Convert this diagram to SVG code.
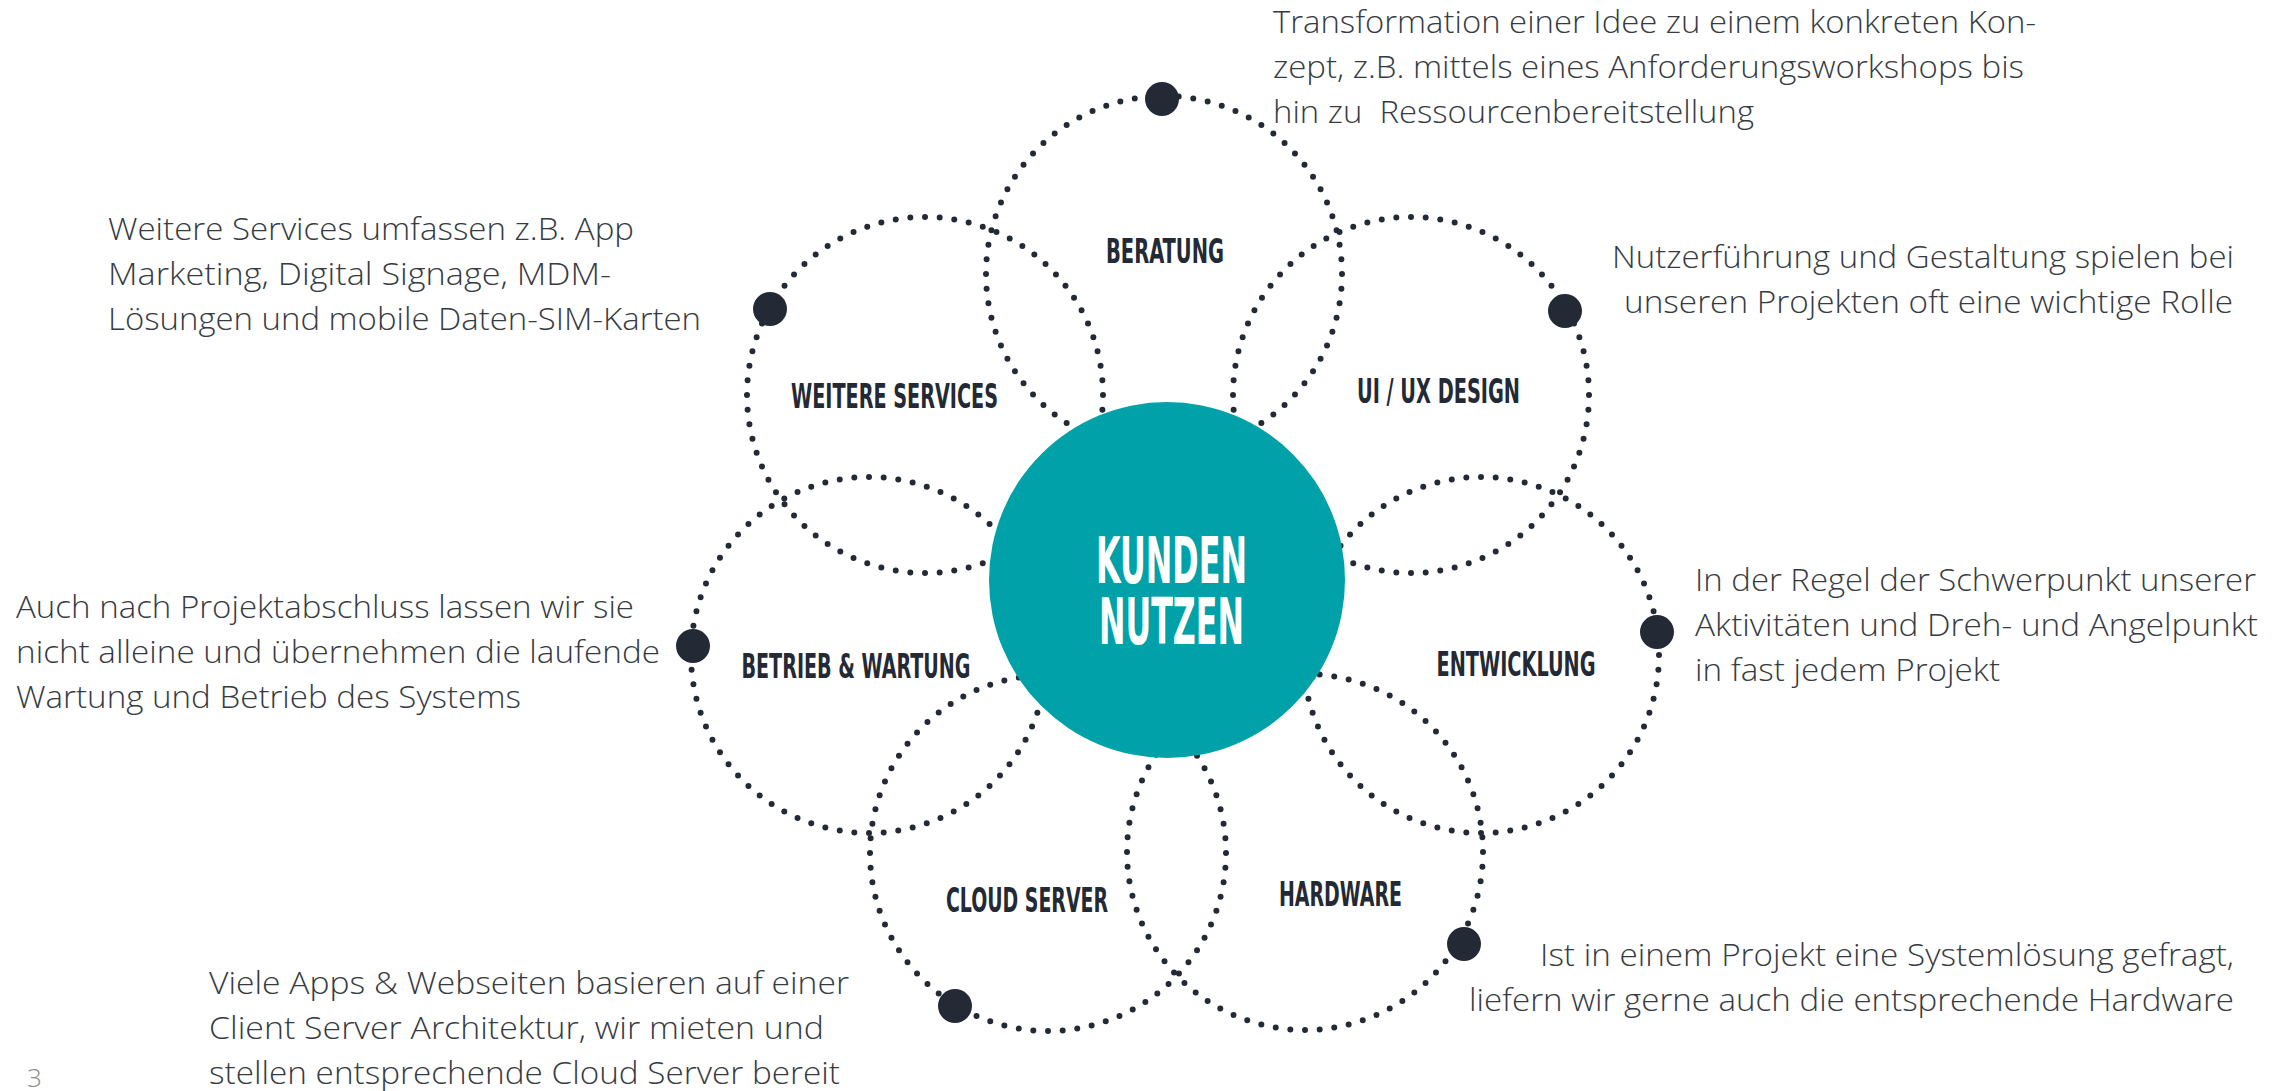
<svg xmlns="http://www.w3.org/2000/svg" width="2287" height="1091" viewBox="0 0 2287 1091">
<style>
.ring{fill:none;stroke:#232a35;stroke-width:6;stroke-linecap:round;stroke-dasharray:0 1}
.pin{fill:#232a35}
.lbl{font-family:"Liberation Sans Narrow","DejaVu Sans Condensed","Roboto",sans-serif;font-weight:bold;font-size:34px;fill:#232a35;text-anchor:middle}
.desc{font-family:"Open Sans","Liberation Sans",sans-serif;font-weight:300;font-size:31px;fill:#363b42}
.end{text-anchor:end}
.core{fill:#00a1a9}
.corelbl{font-family:"Liberation Sans Narrow","DejaVu Sans Condensed","Roboto",sans-serif;font-weight:bold;font-size:64px;fill:#ffffff;text-anchor:middle}
.page{font-family:"Open Sans","Liberation Sans",sans-serif;font-weight:300;font-size:26px;fill:#8c8c8c}
</style>
<rect x="0" y="0" width="2287" height="1091" fill="#ffffff"/>

<g id="beratung">
<circle class="ring" cx="1164" cy="274" r="178" pathLength="76"/>
<circle class="pin" cx="1162" cy="99" r="17"/>
<text class="lbl" x="1165" y="263" textLength="118" lengthAdjust="spacingAndGlyphs">BERATUNG</text>
<text class="desc" x="1273" y="33" textLength="763" lengthAdjust="spacingAndGlyphs">Transformation einer Idee zu einem konkreten Kon-</text>
<text class="desc" x="1273" y="78" textLength="751" lengthAdjust="spacingAndGlyphs">zept, z.B. mittels eines Anforderungsworkshops bis</text>
<text class="desc" x="1273" y="123" textLength="481" lengthAdjust="spacingAndGlyphs" xml:space="preserve">hin zu  Ressourcenbereitstellung</text>
</g>

<g id="uiux">
<circle class="ring" cx="1411" cy="395" r="178" pathLength="76"/>
<circle class="pin" cx="1565" cy="311" r="17"/>
<text class="lbl" x="1438.5" y="403" textLength="163" lengthAdjust="spacingAndGlyphs">UI / UX DESIGN</text>
<text class="desc end" x="2234" y="268" textLength="622" lengthAdjust="spacingAndGlyphs">Nutzerführung und Gestaltung spielen bei</text>
<text class="desc end" x="2233" y="313" textLength="609" lengthAdjust="spacingAndGlyphs">unseren Projekten oft eine wichtige Rolle</text>
</g>

<g id="entwicklung">
<circle class="ring" cx="1481" cy="655" r="178" pathLength="76"/>
<circle class="pin" cx="1657" cy="632" r="17"/>
<text class="lbl" x="1516" y="676" textLength="159" lengthAdjust="spacingAndGlyphs">ENTWICKLUNG</text>
<text class="desc" x="1695" y="591" textLength="561" lengthAdjust="spacingAndGlyphs">In der Regel der Schwerpunkt unserer</text>
<text class="desc" x="1695" y="636" textLength="563" lengthAdjust="spacingAndGlyphs">Aktivitäten und Dreh- und Angelpunkt</text>
<text class="desc" x="1695" y="681" textLength="305" lengthAdjust="spacingAndGlyphs">in fast jedem Projekt</text>
</g>

<g id="hardware">
<circle class="ring" cx="1305" cy="852" r="178" pathLength="76"/>
<circle class="pin" cx="1464" cy="944" r="17"/>
<text class="lbl" x="1340.5" y="906" textLength="123" lengthAdjust="spacingAndGlyphs">HARDWARE</text>
<text class="desc end" x="2234" y="966" textLength="694" lengthAdjust="spacingAndGlyphs">Ist in einem Projekt eine Systemlösung gefragt,</text>
<text class="desc end" x="2234" y="1011" textLength="765" lengthAdjust="spacingAndGlyphs">liefern wir gerne auch die entsprechende Hardware</text>
</g>

<g id="cloud-server">
<circle class="ring" cx="1048" cy="853" r="178" pathLength="76"/>
<circle class="pin" cx="955" cy="1006" r="17"/>
<text class="lbl" x="1027" y="912" textLength="162" lengthAdjust="spacingAndGlyphs">CLOUD SERVER</text>
<text class="desc" x="209" y="994" textLength="640" lengthAdjust="spacingAndGlyphs">Viele Apps &amp; Webseiten basieren auf einer</text>
<text class="desc" x="209" y="1039" textLength="615" lengthAdjust="spacingAndGlyphs">Client Server Architektur, wir mieten und</text>
<text class="desc" x="209" y="1084" textLength="631" lengthAdjust="spacingAndGlyphs">stellen entsprechende Cloud Server bereit</text>
</g>

<g id="betrieb-wartung">
<circle class="ring" cx="869" cy="655" r="178" pathLength="76"/>
<circle class="pin" cx="693" cy="646" r="17"/>
<text class="lbl" x="856" y="678" textLength="229" lengthAdjust="spacingAndGlyphs">BETRIEB &amp; WARTUNG</text>
<text class="desc" x="16" y="618" textLength="618" lengthAdjust="spacingAndGlyphs">Auch nach Projektabschluss lassen wir sie</text>
<text class="desc" x="16" y="663" textLength="644" lengthAdjust="spacingAndGlyphs">nicht alleine und übernehmen die laufende</text>
<text class="desc" x="16" y="708" textLength="505" lengthAdjust="spacingAndGlyphs">Wartung und Betrieb des Systems</text>
</g>

<g id="weitere-services">
<circle class="ring" cx="925" cy="395" r="178" pathLength="76"/>
<circle class="pin" cx="770" cy="309" r="17"/>
<text class="lbl" x="894.5" y="408" textLength="207" lengthAdjust="spacingAndGlyphs">WEITERE SERVICES</text>
<text class="desc" x="108" y="240" textLength="526" lengthAdjust="spacingAndGlyphs">Weitere Services umfassen z.B. App</text>
<text class="desc" x="108" y="285" textLength="503" lengthAdjust="spacingAndGlyphs">Marketing, Digital Signage, MDM-</text>
<text class="desc" x="108" y="330" textLength="593" lengthAdjust="spacingAndGlyphs">Lösungen und mobile Daten-SIM-Karten</text>
</g>

<g id="connectors"></g>

<g id="kunden-nutzen">
<circle class="core" cx="1167" cy="580" r="178"/>
<text class="corelbl" x="1171.5" y="583" textLength="151" lengthAdjust="spacingAndGlyphs">KUNDEN</text>
<text class="corelbl" x="1171.5" y="644" textLength="145" lengthAdjust="spacingAndGlyphs">NUTZEN</text>
</g>

<text class="page" x="27" y="1087">3</text>
</svg>
